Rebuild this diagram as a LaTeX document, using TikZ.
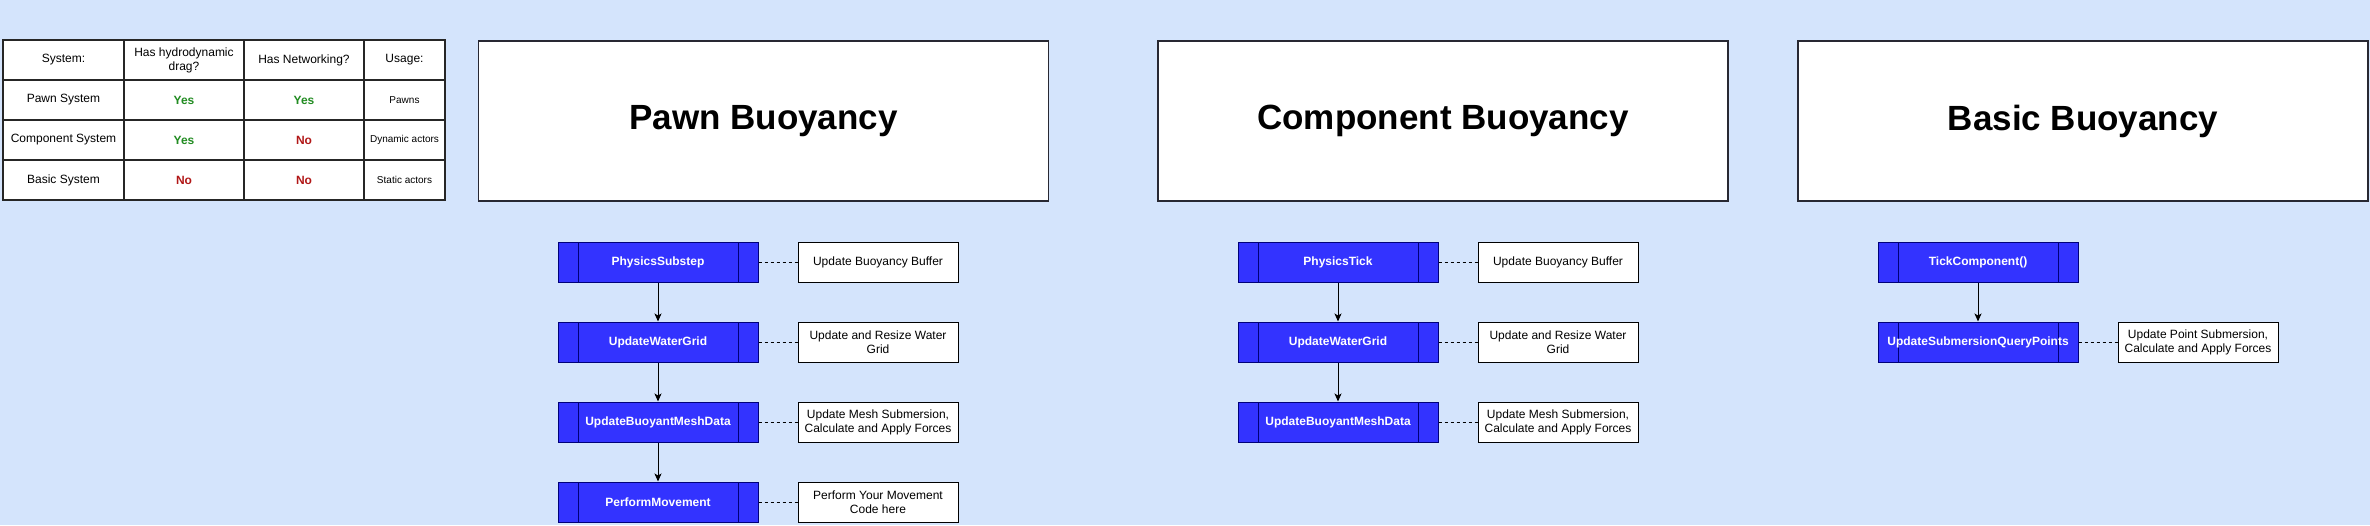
\documentclass[tikz,border=0pt]{standalone}
\usepackage{fontspec}
\setmainfont{Liberation Sans}
\usetikzlibrary{arrows.meta}
\definecolor{bgblue}{RGB}{212,228,252}
\definecolor{procblue}{RGB}{51,51,255}
\definecolor{procborder}{RGB}{0,0,120}
\definecolor{titleborder}{RGB}{40,40,50}
\definecolor{yesgreen}{RGB}{34,140,34}
\definecolor{nored}{RGB}{178,24,24}
\begin{document}
\begin{tikzpicture}[x=1pt,y=-1pt,
  cell/.style={draw=black!85, line width=1.5pt, fill=white, minimum height=40pt, inner sep=1pt, align=center, font=\fontsize{12}{14}\selectfont},
  smallcell/.style={cell, font=\fontsize{10}{12}\selectfont},
  yes/.style={cell, text=yesgreen, font=\bfseries\fontsize{12}{14}\selectfont},
  no/.style={cell, text=nored, font=\bfseries\fontsize{12}{14}\selectfont},
  cA/.style={minimum width=121pt}, cB/.style={minimum width=120pt}, cC/.style={minimum width=120pt}, cD/.style={minimum width=81pt},
  titlebox/.style={draw=titleborder, line width=1.5pt, fill=white, minimum width=570pt, minimum height=160pt, font=\bfseries\fontsize{35}{40}\selectfont},
  proc/.style={draw=procborder, line width=1pt, fill=procblue, minimum width=200pt, minimum height=40pt, inner sep=0pt, text=white, font=\bfseries\fontsize{12}{14}\selectfont,
    path picture={\draw[procborder, line width=1pt] ([xshift=20pt]path picture bounding box.north west) -- ([xshift=20pt]path picture bounding box.south west) ([xshift=-20pt]path picture bounding box.north east) -- ([xshift=-20pt]path picture bounding box.south east);}},
  notebox/.style={draw=black, line width=1pt, fill=white, minimum width=160pt, minimum height=40pt, inner sep=1pt, align=center, font=\fontsize{12}{14}\selectfont},
  arr/.style={draw=black, line width=1pt, -{Stealth[length=8pt,width=7pt,inset=2pt]}},
  link/.style={draw=black, line width=1pt, dash pattern=on 3pt off 3pt}
]
\fill[bgblue] (0,0) rectangle (2370,525);
\useasboundingbox (0,0) rectangle (2370,525);

% table
\node[cell,cA] (t11) at (63.5,60) {System:};
\node[cell,cB] (t12) at (184,60) {Has hydrodynamic\\drag?};
\node[cell,cC] (t13) at (304,60) {Has Networking?};
\node[cell,cD] (t14) at (404.5,60) {Usage:};
\node[cell,cA] (t21) at (63.5,100) {Pawn System};
\node[yes,cB] (t22) at (184,100) {Yes};
\node[yes,cC] (t23) at (304,100) {Yes};
\node[smallcell,cD] (t24) at (404.5,100) {Pawns};
\node[cell,cA] (t31) at (63.5,140) {Component System};
\node[yes,cB] (t32) at (184,140) {Yes};
\node[no,cC] (t33) at (304,140) {No};
\node[smallcell,cD] (t34) at (404.5,140) {Dynamic actors};
\node[cell,cA] (t41) at (63.5,180) {Basic System};
\node[no,cB] (t42) at (184,180) {No};
\node[no,cC] (t43) at (304,180) {No};
\node[smallcell,cD] (t44) at (404.5,180) {Static actors};

% titles
\node[titlebox] (tp) at (763.5,121) {Pawn Buoyancy};
\node[titlebox] (tc) at (1443,121) {Component Buoyancy};
\node[titlebox] (tb) at (2083,121) {Basic Buoyancy};

% pawn
\node[proc] (p1) at (658,262) {PhysicsSubstep};
\node[proc] (p2) at (658,342) {UpdateWaterGrid};
\node[proc] (p3) at (658,422) {UpdateBuoyantMeshData};
\node[proc] (p4) at (658,502) {PerformMovement};
\node[notebox] (pn1) at (878,262) {Update Buoyancy Buffer};
\node[notebox] (pn2) at (878,342) {Update and Resize Water\\Grid};
\node[notebox] (pn3) at (878,422) {Update Mesh Submersion,\\Calculate and Apply Forces};
\node[notebox] (pn4) at (878,502) {Perform Your Movement\\Code here};
\draw[arr] (p1) -- (p2);
\draw[arr] (p2) -- (p3);
\draw[arr] (p3) -- (p4);
\draw[link] (p1) -- (pn1);
\draw[link] (p2) -- (pn2);
\draw[link] (p3) -- (pn3);
\draw[link] (p4) -- (pn4);

% component
\node[proc] (c1) at (1338,262) {PhysicsTick};
\node[proc] (c2) at (1338,342) {UpdateWaterGrid};
\node[proc] (c3) at (1338,422) {UpdateBuoyantMeshData};
\node[notebox] (cn1) at (1558,262) {Update Buoyancy Buffer};
\node[notebox] (cn2) at (1558,342) {Update and Resize Water\\Grid};
\node[notebox] (cn3) at (1558,422) {Update Mesh Submersion,\\Calculate and Apply Forces};
\draw[arr] (c1) -- (c2);
\draw[arr] (c2) -- (c3);
\draw[link] (c1) -- (cn1);
\draw[link] (c2) -- (cn2);
\draw[link] (c3) -- (cn3);

% basic
\node[proc] (b1) at (1978,262) {TickComponent()};
\node[proc] (b2) at (1978,342) {UpdateSubmersionQueryPoints};
\node[notebox] (bn2) at (2198,342) {Update Point Submersion,\\Calculate and Apply Forces};
\draw[arr] (b1) -- (b2);
\draw[link] (b2) -- (bn2);
\end{tikzpicture}
\end{document}
